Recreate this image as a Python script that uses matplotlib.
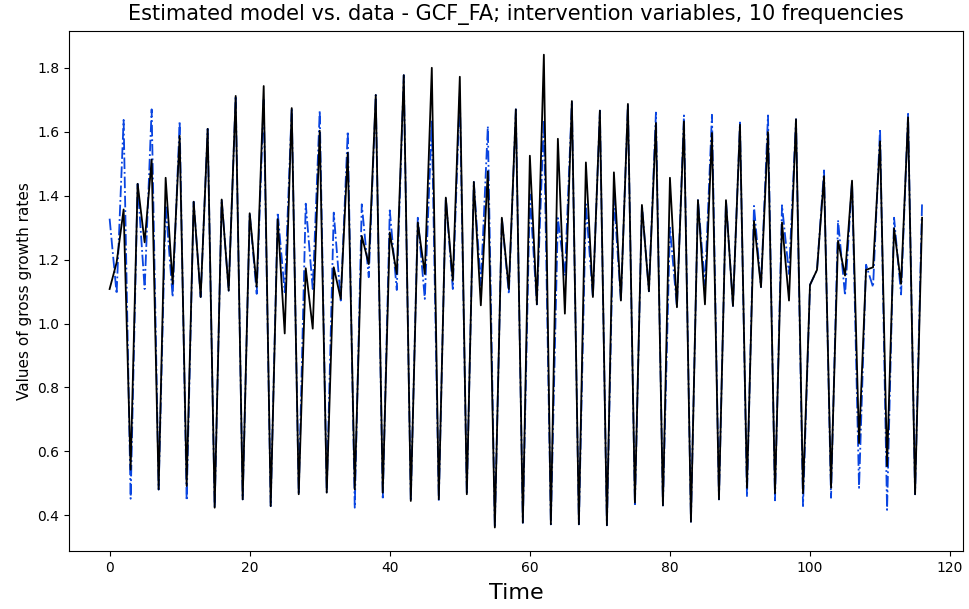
import numpy as np
import matplotlib
matplotlib.use("Agg")
import matplotlib.pyplot as plt

# observed series (black) and estimated model (blue), quarterly points 0..116
data = [1.108, 1.191, 1.357, 0.543, 1.437, 1.254, 1.513, 0.481, 1.456, 1.124,
        1.587, 0.492, 1.381, 1.083, 1.609, 0.424, 1.388, 1.103, 1.712, 0.450,
        1.345, 1.115, 1.743, 0.429, 1.326, 0.969, 1.674, 0.466, 1.173, 0.984,
        1.603, 0.471, 1.176, 1.077, 1.534, 0.481, 1.274, 1.186, 1.715, 0.471,
        1.285, 1.155, 1.777, 0.445, 1.316, 1.155, 1.800, 0.450, 1.394, 1.134,
        1.772, 0.466, 1.443, 1.057, 1.476, 0.362, 1.331, 1.108, 1.670, 0.377,
        1.525, 1.060, 1.841, 0.372, 1.578, 1.031, 1.696, 0.372, 1.504, 1.083,
        1.666, 0.369, 1.473, 1.072, 1.687, 0.440, 1.371, 1.101, 1.627, 0.431,
        1.456, 1.051, 1.632, 0.380, 1.386, 1.060, 1.596, 0.450, 1.386, 1.055,
        1.622, 0.486, 1.321, 1.114, 1.599, 0.469, 1.316, 1.072, 1.639, 0.469,
        1.121, 1.168, 1.461, 0.486, 1.259, 1.150, 1.447, 0.626, 1.168, 1.176,
        1.570, 0.554, 1.298, 1.124, 1.645, 0.466, 1.331]

model = [1.328, 1.093, 1.637, 0.452, 1.437, 1.108, 1.670, 0.481, 1.370, 1.083,
         1.632, 0.447, 1.381, 1.083, 1.609, 0.424, 1.388, 1.103, 1.712, 0.450,
         1.345, 1.093, 1.700, 0.429, 1.347, 1.098, 1.674, 0.466, 1.375, 1.108,
         1.666, 0.471, 1.347, 1.072, 1.601, 0.424, 1.373, 1.145, 1.715, 0.450,
         1.354, 1.105, 1.777, 0.445, 1.331, 1.077, 1.632, 0.445, 1.394, 1.108,
         1.720, 0.466, 1.443, 1.120, 1.617, 0.362, 1.331, 1.093, 1.670, 0.377,
         1.404, 1.060, 1.637, 0.372, 1.330, 1.150, 1.696, 0.372, 1.373, 1.083,
         1.666, 0.369, 1.394, 1.072, 1.687, 0.429, 1.371, 1.101, 1.660, 0.431,
         1.300, 1.051, 1.651, 0.380, 1.386, 1.120, 1.653, 0.450, 1.386, 1.055,
         1.629, 0.458, 1.368, 1.114, 1.651, 0.447, 1.370, 1.155, 1.639, 0.429,
         1.121, 1.168, 1.479, 0.455, 1.323, 1.088, 1.447, 0.486, 1.184, 1.114,
         1.609, 0.417, 1.331, 1.091, 1.656, 0.466, 1.380]

t = np.arange(len(data))

fig = plt.figure(figsize=(9.69, 6.09), dpi=100)
ax = fig.add_subplot(111)
fig.subplots_adjust(left=0.0712, right=0.9935, top=0.949, bottom=0.095)

ax.plot(t, model, color='#0a45e0', linestyle='-.', linewidth=1.3)
ax.plot(t, data, color='black', linewidth=1.3)

ax.set_title('Estimated model vs. data - GCF_FA; intervention variables, 10 frequencies',
             fontsize=15, pad=8)
ax.set_xlabel('Time', fontsize=16, labelpad=6)
ax.set_ylabel('Values of gross growth rates', fontsize=11)

fig.savefig('out.png', dpi=100)
